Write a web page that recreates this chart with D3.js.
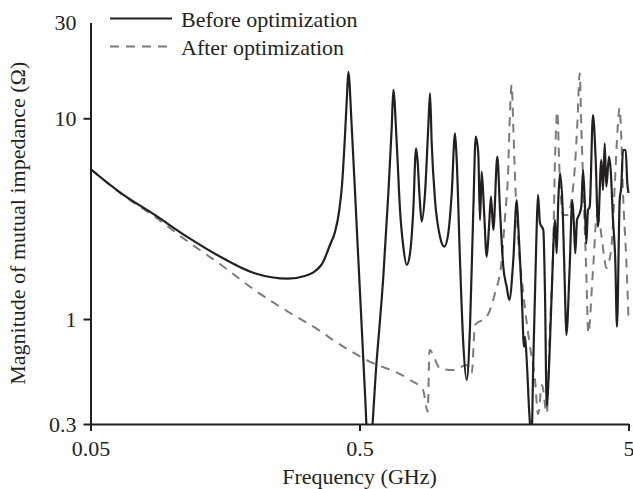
<!DOCTYPE html>
<html>
<head>
<meta charset="utf-8">
<script src="https://cdn.jsdelivr.net/npm/d3@7/dist/d3.min.js"></script>
<style>
  html, body { margin: 0; padding: 0; background: #fff; }
  svg { display: block; }
  text { font-family: "Liberation Serif", "Times New Roman", serif; fill: #231f20; }
</style>
</head>
<body>
<svg id="chart" width="633" height="489"></svg>
<script>
// Mutual impedance magnitude vs frequency, before and after optimization
const freqBefore = [0.05,0.0651,0.0867,0.1152,0.1532,0.2039,0.2712,0.3128,0.3606,0.3884,0.4054,0.4196,0.4305,0.4417,0.4493,0.4544,0.4678,0.4882,0.5095,0.524,0.541,0.5794,0.613,0.64,0.659,0.668,0.6876,0.7074,0.7274,0.749,0.7705,0.7924,0.811,0.8216,0.8356,0.8513,0.876,0.901,0.9144,0.9276,0.9543,0.996,1.0335,1.069,1.101,1.1325,1.149,1.1816,1.2155,1.2515,1.2875,1.3245,1.352,1.382,1.4025,1.423,1.4515,1.4855,1.515,1.541,1.572,1.6265,1.6645,1.712,1.7625,1.8025,1.865,1.9205,1.947,2.0045,2.044,2.0615,2.092,2.139,2.18,2.214,2.246,2.279,2.3045,2.344,2.4115,2.4465,2.4825,2.5385,2.591,2.6655,2.7045,2.7415,2.782,2.847,2.9035,2.936,3.0225,3.0905,3.128,3.171,3.218,3.293,3.338,3.3875,3.437,3.484,3.535,3.5875,3.6895,3.776,3.851,3.9615,4.0195,4.0785,4.135,4.2315,4.2935,4.379,4.4645,4.53,4.637,4.70,4.7705,4.8815,4.9485,5.0];
const zBefore = [5.59,4.23,3.30,2.55,2.03,1.69,1.588,1.638,1.858,2.337,2.714,3.413,4.653,8.257,13.06,17.01,9.08,2.884,0.915,0.428,0.2,0.625,1.625,4.23,9.08,13.84,7.53,3.49,2.293,1.858,2.125,3.49,7.09,6.20,4.15,3.054,4.23,9.08,13.3,7.51,3.916,2.571,2.293,2.673,4.23,8.42,6.20,1.968,0.757,0.497,0.915,3.49,8.10,6.69,3.113,5.42,3.49,2.044,2.884,4.07,2.776,6.44,3.49,1.822,1.448,1.244,1.968,3.916,2.884,1.343,0.728,0.816,0.625,0.339,0.25,0.625,1.343,2.884,4.15,3.0,2.776,1.343,0.37,0.625,1.343,3.113,2.125,3.916,5.32,3.49,1.343,0.832,1.822,3.916,3.113,2.125,3.113,3.363,3.627,5.526,3.916,2.383,3.49,3.627,10.38,6.20,2.884,6.20,4.39,7.51,4.562,6.44,5.526,3.113,1.968,0.915,3.916,4.562,6.95,6.95,4.745,4.245];

const freqAfter = [0.05,0.0651,0.0867,0.1152,0.1532,0.2039,0.2712,0.3606,0.3985,0.532,0.7705,0.861,0.8965,0.9105,0.996,1.1135,1.2515,1.3065,1.344,1.4855,1.5945,1.689,1.7375,1.787,1.8055,1.84,1.865,1.8925,1.947,2.0315,2.1425,2.246,2.3045,2.3845,2.4825,2.5535,2.6265,2.6655,2.7185,2.766,2.8545,2.9795,3.07,3.163,3.2315,3.293,3.338,3.3875,3.437,3.484,3.544,3.6895,3.818,3.918,3.9855,4.1415,4.2315,4.342,4.455,4.5515,4.637,4.689,4.7705,4.9065,5.0];
const zAfter = [5.59,4.20,3.234,2.428,1.858,1.394,1.087,0.864,0.786,0.625,0.497,0.443,0.345,0.701,0.568,0.557,0.590,0.537,0.934,1.027,1.343,1.968,3.234,5.74,9.08,14.65,9.08,5.12,2.476,1.343,0.757,0.497,0.336,0.469,0.339,0.915,2.383,6.20,10.79,5.74,3.30,3.30,3.916,5.85,9.81,16.76,9.08,5.12,2.884,1.69,0.852,1.754,3.30,2.94,2.476,1.795,1.923,2.476,4.927,8.745,11.25,8.745,4.23,1.968,1.011];

const xTicks = [0.05, 0.5, 5];
const xTickLabels = ["0.05", "0.5", "5"];
const yTicks = [0.3, 1, 10, 30];
const yTickLabels = ["0.3", "1", "10", "30"];
const seriesNames = ["Before optimization", "After optimization"];

const ink = "#231f20";
const grey = "#7b7b7b";
const fontSize = "22px";

const svg = d3.select("#chart");
const plotLeft = 90.5, plotRight = 628.5, plotTop = 22.5, plotBottom = 424;

const x = d3.scaleLog().domain([0.05, 5]).range([plotLeft, plotRight]);
const y = d3.scaleLog().domain([0.3, 30]).range([plotBottom, plotTop]);

svg.append("defs").append("clipPath").attr("id", "plotClip")
  .append("rect")
  .attr("x", plotLeft).attr("y", 0)
  .attr("width", plotRight - plotLeft + 4).attr("height", plotBottom);

const line = d3.line()
  .x(d => x(d[0]))
  .y(d => y(d[1]))
  .curve(d3.curveMonotoneX);

const plot = svg.append("g").attr("clip-path", "url(#plotClip)");

plot.append("path")
  .datum(d3.zip(freqAfter, zAfter))
  .attr("d", line)
  .attr("fill", "none")
  .attr("stroke", grey)
  .attr("stroke-width", 2)
  .attr("stroke-dasharray", "9,7");

plot.append("path")
  .datum(d3.zip(freqBefore, zBefore))
  .attr("d", line)
  .attr("fill", "none")
  .attr("stroke", ink)
  .attr("stroke-width", 2.2)
  .attr("stroke-linejoin", "round");

// Axes
const xAxis = d3.axisBottom(x)
  .tickValues(xTicks)
  .tickFormat((d, i) => xTickLabels[i])
  .tickSizeInner(7).tickSizeOuter(0).tickPadding(9);

const yAxis = d3.axisLeft(y)
  .tickValues(yTicks)
  .tickFormat((d, i) => yTickLabels[i])
  .tickSizeInner(7).tickSizeOuter(0).tickPadding(7);

const gx = svg.append("g").attr("transform", `translate(0,${plotBottom})`).call(xAxis);
const gy = svg.append("g").attr("transform", `translate(${plotLeft},0)`).call(yAxis);

[gx, gy].forEach(g => {
  g.select(".domain").attr("stroke", ink).attr("stroke-width", 2);
  g.selectAll(".tick line").attr("stroke", ink).attr("stroke-width", 2);
  g.selectAll(".tick text")
    .attr("fill", ink)
    .style("font-family", '"Liberation Serif", serif')
    .style("font-size", fontSize);
});
// the top value sits at the end of the axis without a tick mark
gy.selectAll(".tick").filter(d => d === 30).select("line").remove();

// Axis titles
svg.append("text")
  .attr("x", (plotLeft + plotRight) / 2)
  .attr("y", 484)
  .attr("text-anchor", "middle")
  .style("font-size", fontSize)
  .text("Frequency (GHz)");

svg.append("text")
  .attr("transform", `translate(25,${(plotTop + plotBottom) / 2}) rotate(-90)`)
  .attr("text-anchor", "middle")
  .style("font-size", fontSize)
  .text("Magnitude of mutual impedance (Ω)");

// Legend
const legend = svg.append("g");
const legendRows = [
  { name: seriesNames[0], color: ink, dash: null, y: 18.5 },
  { name: seriesNames[1], color: grey, dash: "9,7", y: 46.5 }
];
legendRows.forEach(r => {
  legend.append("line")
    .attr("x1", 110).attr("x2", 172)
    .attr("y1", r.y).attr("y2", r.y)
    .attr("stroke", r.color)
    .attr("stroke-width", 2)
    .attr("stroke-dasharray", r.dash);
  legend.append("text")
    .attr("x", 181)
    .attr("y", r.y + 8)
    .style("font-size", fontSize)
    .text(r.name);
});
</script>
</body>
</html>
